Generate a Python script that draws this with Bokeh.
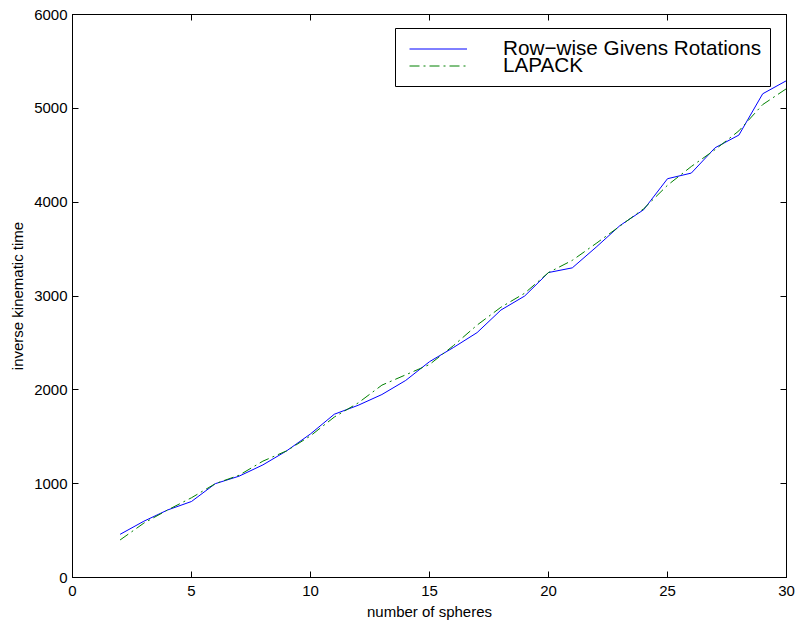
from bokeh.plotting import figure
from bokeh.models import Range1d, LinearAxis, Legend, LegendItem, FixedTicker, BoxAnnotation
from bokeh.embed import file_html
from bokeh.resources import INLINE

# ---- data ----
spheres = list(range(2, 31))
givens = [460, 600, 720, 810, 1000, 1080, 1200, 1350, 1530, 1740, 1835, 1950, 2100,
          2300, 2450, 2610, 2850, 3000, 3250, 3300, 3520, 3750, 3920, 4250, 4310,
          4580, 4715, 5155, 5295]
lapack = [400, 580, 720, 850, 1000, 1090, 1240, 1350, 1510, 1710, 1860, 2050, 2160,
          2270, 2470, 2690, 2880, 3030, 3250, 3380, 3560, 3745, 3930, 4180, 4380,
          4560, 4760, 5040, 5210]
x_ticks = [0, 5, 10, 15, 20, 25, 30]
y_ticks = [0, 1000, 2000, 3000, 4000, 5000, 6000]
labels = ["Row\u2212wise Givens Rotations", "LAPACK"]

FONT = "Liberation Sans"

p = figure(width=799, height=624, output_backend="svg", toolbar_location=None,
           x_range=Range1d(0, 30), y_range=Range1d(0, 6000),
           min_border_left=72, min_border_right=13, min_border_top=14, min_border_bottom=47)
p.background_fill_color = "white"
p.border_fill_color = "white"
p.outline_line_color = "black"
p.outline_line_width = 1
p.xgrid.visible = False
p.ygrid.visible = False

def style_axis(ax, show_labels=True):
    ax.axis_line_color = "black"
    ax.axis_line_width = 1
    ax.major_tick_in = 6
    ax.major_tick_out = 0
    ax.minor_tick_line_color = None
    ax.major_tick_line_color = "black"
    ax.major_label_text_font = FONT
    ax.major_label_text_font_size = "15px"
    ax.major_label_text_color = "black"
    ax.axis_label_text_font = FONT
    ax.axis_label_text_font_size = "15px"
    ax.axis_label_text_font_style = "normal"
    ax.axis_label_text_color = "black"
    if not show_labels:
        ax.major_label_text_font_size = "0px"
        ax.major_label_text_color = None

p.xaxis.ticker = FixedTicker(ticks=x_ticks)
p.yaxis.ticker = FixedTicker(ticks=y_ticks)
p.xaxis.axis_label = "number of spheres"
p.yaxis.axis_label = "inverse kinematic time"
style_axis(p.xaxis[0])
style_axis(p.yaxis[0])
p.xaxis.major_label_standoff = 8
p.xaxis.axis_label_standoff = 4
p.yaxis.major_label_standoff = 5
p.yaxis.axis_label_standoff = 5

top = LinearAxis(ticker=FixedTicker(ticks=x_ticks), major_label_standoff=0)
right = LinearAxis(ticker=FixedTicker(ticks=y_ticks), major_label_standoff=0)
style_axis(top, False)
style_axis(right, False)
top.major_label_overrides = {t: "" for t in x_ticks}
right.major_label_overrides = {t: "" for t in y_ticks}
p.add_layout(top, "above")
p.add_layout(right, "right")

r1 = p.line(spheres, givens, line_color="#0000ff", line_width=1)
r2 = p.line(spheres, lapack, line_color="#008000", line_width=1, line_dash="10 4 2 4")

# legend frame (screen units, relative to the plot frame)
box = BoxAnnotation(left=323, right=698, bottom=491, top=549,
                    left_units="screen", right_units="screen",
                    bottom_units="screen", top_units="screen",
                    fill_color="white", fill_alpha=1.0,
                    line_color="black", line_width=1, line_alpha=1.0)
p.add_layout(box)

def make_row(label, renderer, y):
    lg = Legend(items=[LegendItem(label=label, renderers=[renderer])],
                location=(337, y), orientation="vertical")
    lg.label_text_font = FONT
    lg.label_text_font_size = "20.7px"
    lg.label_text_color = "black"
    lg.glyph_width = 58
    lg.glyph_height = 15
    lg.label_height = 15
    lg.label_standoff = 36
    lg.spacing = 0
    lg.padding = 0
    lg.margin = 0
    lg.border_line_color = None
    lg.background_fill_alpha = 0
    return lg

p.add_layout(make_row(labels[0], r1, 517), "center")
p.add_layout(make_row(labels[1], r2, 500), "center")

open("out.html", "w").write(file_html(p, INLINE))
